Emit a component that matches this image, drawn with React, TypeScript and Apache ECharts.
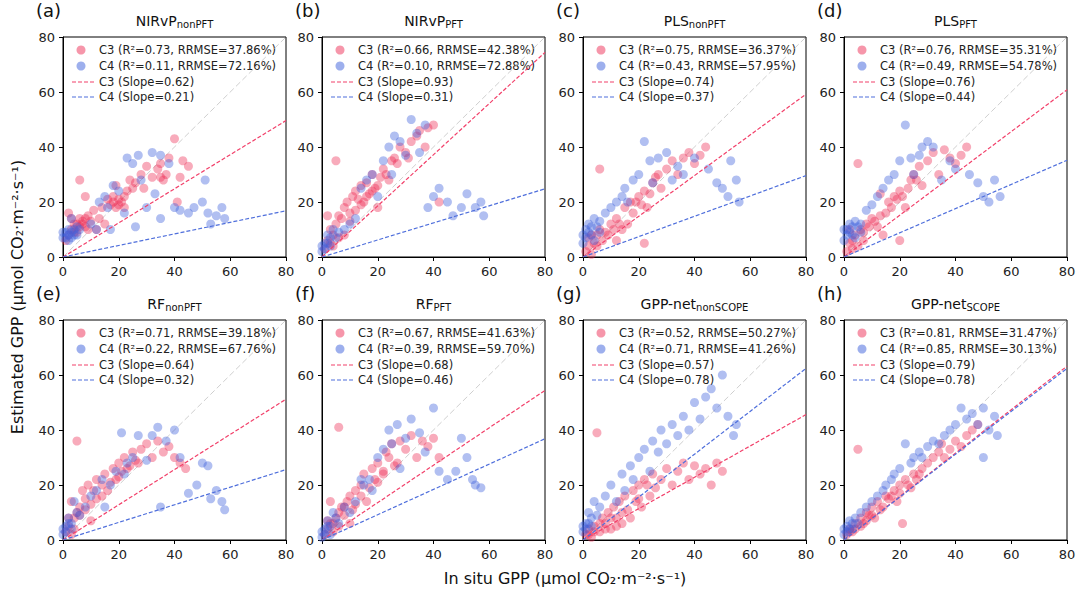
import { useEffect, useRef } from 'react';
import * as echarts from 'echarts';

const panelLabels = ['(a)', '(b)', '(c)', '(d)', '(e)', '(f)', '(g)', '(h)'];
const titleMain = ['NIRvP', 'NIRvP', 'PLS', 'PLS', 'RF', 'RF', 'GPP-net', 'GPP-net'];
const titleSub = ['nonPFT', 'PFT', 'nonPFT', 'PFT', 'nonPFT', 'PFT', 'nonSCOPE', 'SCOPE'];
const c3Stats = ['0.73, RRMSE=37.86%', '0.66, RRMSE=42.38%', '0.75, RRMSE=36.37%', '0.76, RRMSE=35.31%', '0.71, RRMSE=39.18%', '0.67, RRMSE=41.63%', '0.52, RRMSE=50.27%', '0.81, RRMSE=31.47%'];
const c4Stats = ['0.11, RRMSE=72.16%', '0.10, RRMSE=72.88%', '0.43, RRMSE=57.95%', '0.49, RRMSE=54.78%', '0.22, RRMSE=67.76%', '0.39, RRMSE=59.70%', '0.71, RRMSE=41.26%', '0.85, RRMSE=30.13%'];
const c3Slope = [0.62, 0.93, 0.74, 0.76, 0.64, 0.68, 0.57, 0.79];
const c4Slope = [0.21, 0.31, 0.37, 0.44, 0.32, 0.46, 0.78, 0.78];

const c3Points: number[][][] = [
  [[1,6],[2,8],[3,10],[4,12],[5,9],[6,28],[6,14],[7,12],[8,11],[8,22],[9,15],[10,13],[11,17],[12,10],[13,14],[14,18],[15,12],[16,21],[17,19],[18,22],[19,26],[20,19],[21,20],[22,18],[23,24],[24,28],[26,27],[28,30],[29,25],[30,33],[32,29],[34,32],[35,34],[36,28],[37,30],[38,36],[40,43],[41,20],[42,29],[43,35],[45,33],[2,16],[3,14],[5,12],[6,11],[7,13],[8,14],[9,10],[4,9],[18,20],[20,21],[22,22],[19,18],[25,25],[35,29]],
  [[1,3],[2,6],[3,10],[4,8],[5,35],[5,12],[6,15],[7,14],[8,18],[9,20],[10,16],[11,22],[12,24],[13,21],[14,26],[15,20],[16,27],[17,23],[18,30],[19,25],[20,18],[21,29],[22,32],[24,28],[25,35],[26,36],[28,40],[30,38],[32,42],[34,44],[35,46],[37,40],[38,47],[40,48],[42,20],[2,15],[3,5],[8,8],[4,4],[6,7],[10,13],[12,17],[14,19],[16,22],[18,24],[20,26],[23,30],[27,34],[31,36]],
  [[1,2],[2,4],[3,1],[4,5],[5,8],[6,32],[6,10],[8,9],[10,12],[12,14],[14,10],[15,18],[17,20],[18,16],[20,22],[22,24],[23,18],[25,27],[27,30],[28,25],[30,32],[32,35],[34,30],[36,36],[38,38],[40,34],[42,37],[44,40],[12,6],[22,5],[3,8],[16,12],[2,7],[5,4],[7,6],[9,8],[11,10],[13,12],[19,20],[21,19],[24,23],[26,29]],
  [[1,2],[2,5],[3,3],[4,8],[5,34],[6,10],[7,6],[8,12],[10,14],[12,11],[13,23],[15,16],[16,20],[18,22],[20,24],[22,18],[24,28],[25,30],[27,33],[28,26],[30,35],[32,38],[34,30],[36,39],[38,36],[40,34],[42,37],[44,40],[20,6],[2,10],[14,8],[3,6],[5,4],[7,9],[9,11],[11,13],[13,15],[17,18],[19,21],[21,22],[23,25],[26,28]],
  [[1,3],[2,5],[3,2],[4,8],[5,36],[5,10],[6,12],[7,18],[8,15],[9,20],[10,13],[11,18],[12,22],[14,20],[15,24],[16,18],[18,26],[19,22],[20,28],[21,25],[22,30],[24,27],[25,32],[27,28],[28,33],[30,35],[32,30],[34,36],[36,32],[38,34],[40,30],[42,28],[44,26],[3,14],[10,7],[2,8],[4,4],[6,9],[8,11],[12,15],[14,16],[17,21],[20,23],[23,26],[26,29]],
  [[1,2],[2,4],[3,6],[4,3],[5,8],[6,41],[6,10],[7,12],[8,9],[9,14],[10,16],[11,11],[12,18],[14,20],[15,24],[16,14],[18,26],[19,22],[20,28],[22,25],[23,32],[24,30],[25,35],[27,28],[28,36],[30,33],[32,38],[34,30],[36,36],[38,34],[40,37],[42,30],[3,14],[10,6],[2,7],[4,6],[6,5],[8,12],[12,13],[14,16],[17,19],[20,21],[22,24],[26,27]],
  [[1,2],[2,4],[3,1],[4,5],[5,39],[6,3],[7,8],[8,6],[9,10],[10,4],[11,12],[12,8],[13,14],[14,6],[15,16],[16,11],[18,18],[19,14],[20,20],[21,12],[22,22],[24,16],[25,24],[26,19],[28,22],[30,26],[32,20],[34,25],[36,28],[38,22],[40,27],[42,24],[44,26],[46,20],[48,28],[50,25],[2,2],[4,3],[6,6],[8,4],[10,8],[12,5],[14,10],[17,8],[20,15],[23,20]],
  [[1,2],[2,4],[3,3],[4,6],[5,33],[6,8],[7,6],[8,10],[9,9],[10,12],[11,8],[12,14],[14,12],[15,16],[16,15],[18,18],[19,14],[20,20],[21,6],[22,22],[24,19],[25,24],[26,22],[28,26],[30,28],[32,30],[34,32],[35,35],[36,30],[38,33],[40,36],[42,34],[44,38],[46,40],[48,42],[2,3],[4,4],[6,5],[8,7],[10,9],[13,11],[17,16],[20,17],[23,20],[27,24]],
];

const c4Points: number[][][] = [
  [[0,7],[1,9],[2,8],[3,7],[4,10],[5,11],[6,10],[3,14],[10,12],[12,10],[13,20],[15,22],[16,18],[17,10],[18,26],[20,24],[22,16],[23,36],[25,34],[26,11],[27,37],[28,28],[30,18],[32,38],[33,23],[35,14],[35,37],[38,34],[40,18],[42,17],[45,16],[47,18],[50,20],[51,28],[52,16],[53,12],[55,15],[57,18],[58,14],[1,7],[2,10],[3,9],[4,8],[0,9],[5,8],[2,6]],
  [[0,2],[1,5],[2,8],[3,4],[4,10],[5,7],[8,10],[10,12],[12,14],[14,25],[16,28],[18,30],[20,22],[22,35],[24,40],[25,30],[26,44],[28,42],[30,37],[32,50],[34,45],[35,38],[37,48],[38,18],[40,22],[42,25],[45,20],[47,15],[50,18],[52,23],[55,18],[57,20],[58,15],[1,3],[2,5],[3,7],[0,4],[6,9]],
  [[0,5],[1,10],[2,12],[3,8],[4,14],[5,11],[6,9],[8,16],[10,18],[12,20],[14,22],[15,25],[16,20],[18,28],[20,30],[22,42],[24,35],[25,27],[27,36],[30,38],[32,28],[34,33],[36,30],[40,36],[45,32],[48,27],[50,25],[52,22],[53,35],[55,28],[56,20],[1,7],[2,9],[3,11],[0,8],[4,6],[6,13]],
  [[0,6],[1,10],[2,12],[3,8],[4,13],[5,11],[6,9],[8,17],[10,19],[12,22],[14,25],[16,28],[18,30],[20,35],[22,48],[24,36],[25,30],[27,37],[28,40],[30,42],[32,40],[35,28],[38,35],[40,32],[45,30],[48,27],[50,22],[52,20],[54,28],[56,22],[1,8],[2,9],[3,11],[0,10],[4,7],[6,12]],
  [[0,2],[1,5],[2,8],[3,4],[4,14],[5,10],[6,9],[8,12],[10,16],[12,18],[14,22],[15,12],[17,20],[19,25],[21,39],[22,24],[23,28],[25,30],[27,38],[30,29],[32,38],[34,41],[35,12],[37,36],[40,40],[42,30],[45,17],[48,20],[50,28],[52,27],[53,15],[55,18],[57,14],[58,11],[1,3],[2,6],[0,4],[3,6]],
  [[0,1],[1,4],[2,7],[3,2],[4,10],[5,8],[6,6],[8,12],[10,10],[12,14],[14,22],[15,20],[17,22],[18,18],[20,30],[22,33],[24,40],[25,35],[27,42],[28,26],[30,37],[32,44],[35,39],[37,32],[40,48],[42,25],[45,22],[48,25],[50,37],[52,30],[54,22],[55,20],[57,19],[1,2],[2,5],[0,3],[3,5]],
  [[0,3],[1,6],[2,10],[3,5],[4,14],[5,9],[6,12],[8,16],[10,20],[12,14],[14,24],[15,18],[17,27],[18,22],[20,30],[22,33],[24,25],[25,36],[27,32],[28,40],[30,35],[32,42],[34,38],[36,45],[38,40],[40,50],[42,44],[44,52],[46,55],[48,48],[50,60],[52,45],[54,38],[55,42],[1,4],[2,6],[0,5],[3,8]],
  [[0,2],[1,5],[2,7],[3,4],[4,8],[5,6],[6,10],[8,12],[10,14],[12,16],[14,18],[15,20],[17,22],[18,24],[20,26],[22,35],[24,28],[25,30],[27,32],[28,30],[30,34],[32,36],[34,35],[36,38],[38,40],[40,42],[42,48],[44,44],[46,46],[48,42],[50,48],[52,40],[54,45],[55,38],[50,30],[1,3],[2,4],[0,4],[3,6]],
];

const axisTicks = [0, 20, 40, 60, 80];

const C3_COLOR = 'rgba(238, 45, 85, 0.5)';
const C4_COLOR = 'rgba(60, 95, 220, 0.5)';
const C3_LINE = '#f2406a';
const C4_LINE = '#4f6fdc';

const lefts = [63, 322, 583, 844];
const tops = [37, 320];
const W = 223;
const H = 220;

export default function App() {
  const chartRef = useRef<HTMLDivElement>(null);

  useEffect(() => {
    if (!chartRef.current) return;
    document.body.style.margin = '0';
    const myChart = echarts.init(chartRef.current, null, { renderer: 'svg' });

    const grid: any[] = [];
    const xAxis: any[] = [];
    const yAxis: any[] = [];
    const series: any[] = [];
    const graphic: any[] = [];
    const font = 'DejaVu Sans, sans-serif';

    for (let i = 0; i < 8; i++) {
      const left = lefts[i % 4];
      const top = tops[Math.floor(i / 4)];
      grid.push({ left, top, width: W, height: H, show: true, borderColor: '#000', borderWidth: 1, backgroundColor: 'transparent' });
      const ax = {
        gridIndex: i, min: axisTicks[0], max: axisTicks[axisTicks.length - 1], interval: 20,
        axisLine: { show: true, lineStyle: { color: '#000' } },
        axisTick: { show: true, inside: false, length: 4, lineStyle: { color: '#000' } },
        axisLabel: { color: '#222', fontSize: 13, fontFamily: font },
        splitLine: { show: false },
      };
      xAxis.push({ ...ax, type: 'value' });
      yAxis.push({ ...ax, type: 'value' });

      series.push({
        type: 'line', xAxisIndex: i, yAxisIndex: i, data: [[0, 0], [80, 80]], symbol: 'none', silent: true,
        lineStyle: { color: '#cfcfcf', width: 1, type: [6, 3] }, z: 1,
      });
      series.push({
        type: 'scatter', xAxisIndex: i, yAxisIndex: i, data: c3Points[i], symbolSize: 9,
        itemStyle: { color: C3_COLOR }, z: 2,
      });
      series.push({
        type: 'scatter', xAxisIndex: i, yAxisIndex: i, data: c4Points[i], symbolSize: 9,
        itemStyle: { color: C4_COLOR }, z: 2,
      });
      series.push({
        type: 'line', xAxisIndex: i, yAxisIndex: i, data: [[0, 0], [80, 80 * c3Slope[i]]], symbol: 'none',
        lineStyle: { color: C3_LINE, width: 1.2, type: [4, 2] }, z: 3,
      });
      series.push({
        type: 'line', xAxisIndex: i, yAxisIndex: i, data: [[0, 0], [80, 80 * c4Slope[i]]], symbol: 'none',
        lineStyle: { color: C4_LINE, width: 1.2, type: [4, 2] }, z: 3,
      });

      // panel letter and title
      graphic.push({ type: 'text', left: left - 27, top: top - 36, style: { text: panelLabels[i], fontSize: 18, fontFamily: font, fill: '#111' } });
      graphic.push({
        type: 'text', x: left + W / 2, y: top - 8,
        style: {
          text: `{m|${titleMain[i]}}{s|${titleSub[i]}}`, align: 'center', verticalAlign: 'bottom',
          rich: { m: { fontSize: 14, fontFamily: font, fill: '#111' }, s: { fontSize: 10, fontFamily: font, fill: '#111', padding: [6, 0, 0, 0] } },
        },
      });

      // legend
      const lx = left + 18;
      const rows = [top + 13, top + 29, top + 45, top + 60];
      const tf = { fontSize: 11.5, fontFamily: font, fill: '#222', verticalAlign: 'middle' };
      graphic.push({ type: 'circle', shape: { cx: lx, cy: rows[0], r: 4.5 }, style: { fill: C3_COLOR } });
      graphic.push({ type: 'circle', shape: { cx: lx, cy: rows[1], r: 4.5 }, style: { fill: C4_COLOR } });
      graphic.push({ type: 'line', shape: { x1: lx - 9, y1: rows[2], x2: lx + 13, y2: rows[2] }, style: { stroke: C3_LINE, lineWidth: 1.2, lineDash: [4, 2] } });
      graphic.push({ type: 'line', shape: { x1: lx - 9, y1: rows[3], x2: lx + 13, y2: rows[3] }, style: { stroke: C4_LINE, lineWidth: 1.2, lineDash: [4, 2] } });
      graphic.push({ type: 'text', x: lx + 18, y: rows[0], style: { ...tf, text: `C3 (R²=${c3Stats[i]})` } });
      graphic.push({ type: 'text', x: lx + 18, y: rows[1], style: { ...tf, text: `C4 (R²=${c4Stats[i]})` } });
      graphic.push({ type: 'text', x: lx + 18, y: rows[2], style: { ...tf, text: `C3 (Slope=${c3Slope[i].toFixed(2)})` } });
      graphic.push({ type: 'text', x: lx + 18, y: rows[3], style: { ...tf, text: `C4 (Slope=${c4Slope[i].toFixed(2)})` } });
    }

    graphic.push({
      type: 'text', x: 17, y: 297, rotation: Math.PI / 2,
      style: { text: 'Estimated GPP (μmol CO₂·m⁻²·s⁻¹)', fontSize: 16, fontFamily: font, fill: '#111', align: 'center', verticalAlign: 'middle' },
    });
    graphic.push({
      type: 'text', x: 565, y: 578,
      style: { text: 'In situ GPP (μmol CO₂·m⁻²·s⁻¹)', fontSize: 16, fontFamily: font, fill: '#111', align: 'center', verticalAlign: 'middle' },
    });

    myChart.setOption({ animation: false, backgroundColor: '#fff', grid, xAxis, yAxis, series, graphic });

    const handleResize = () => myChart.resize();
    window.addEventListener('resize', handleResize);
    return () => {
      window.removeEventListener('resize', handleResize);
      myChart.dispose();
    };
  }, []);

  return <div ref={chartRef} style={{ width: 1080, height: 593 }} />;
}
